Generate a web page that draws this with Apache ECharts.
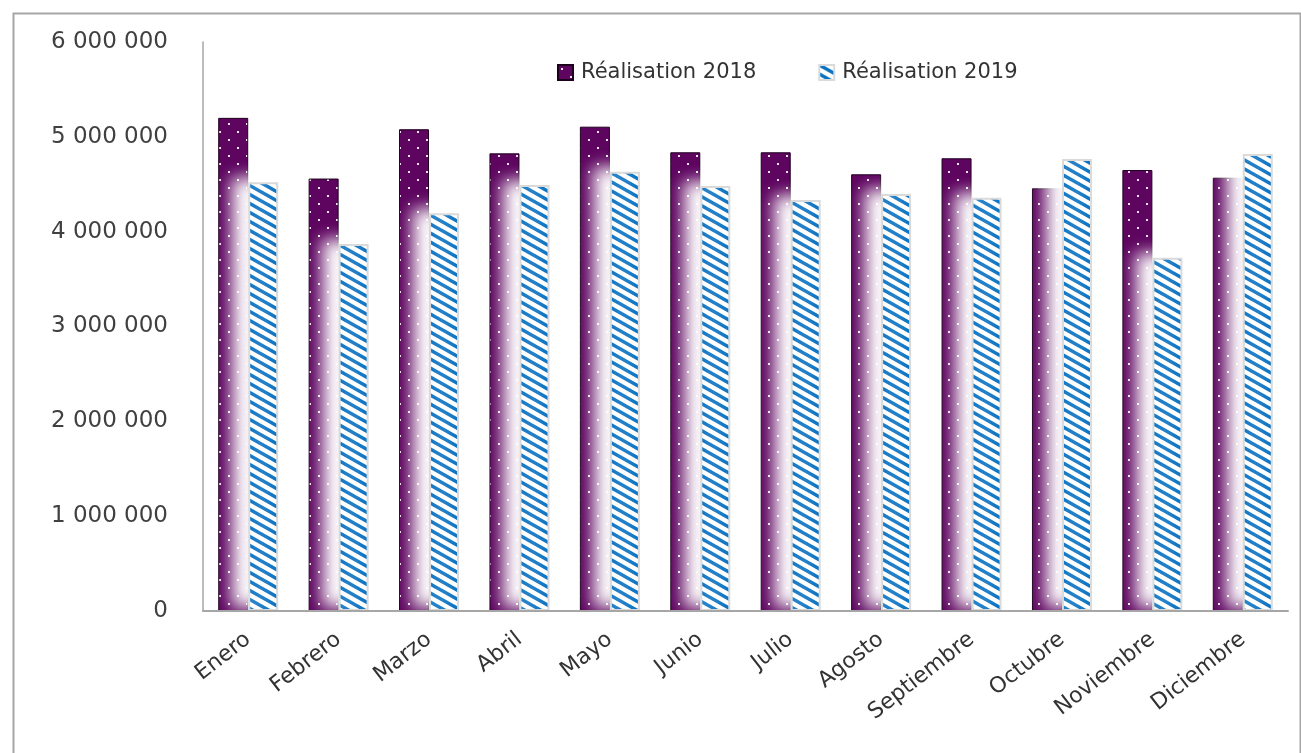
<!DOCTYPE html>
<html>
<head>
<meta charset="utf-8">
<script src="https://cdn.jsdelivr.net/npm/echarts@6/dist/echarts.min.js"></script>
<style>
  html, body { margin: 0; padding: 0; background: #ffffff; }
  #chart { width: 1301px; height: 753px; }
</style>
</head>
<body>
<div id="chart"></div>
<script>
// Monthly figures
const months = ['Enero', 'Febrero', 'Marzo', 'Abril', 'Mayo', 'Junio', 'Julio',
                'Agosto', 'Septiembre', 'Octubre', 'Noviembre', 'Diciembre'];
const real2018 = [5200000, 4560000, 5080000, 4826000, 5107000, 4837000, 4837000,
                  4605000, 4774000, 4457000, 4650000, 4569000];
const real2019 = [4520000, 3870000, 4194000, 4492000, 4633000, 4482000, 4334000,
                  4397000, 4358000, 4766000, 3726000, 4819000];
const seriesNames = ['Réalisation 2018', 'Réalisation 2019'];
const yTicks = [0, 1000000, 2000000, 3000000, 4000000, 5000000, 6000000];

// Fill pattern: purple with small white dots
function dotPattern() {
  const c = document.createElement('canvas');
  c.width = 18; c.height = 16;
  const g = c.getContext('2d');
  g.fillStyle = '#5e0560';
  g.fillRect(0, 0, 18, 16);
  g.fillStyle = 'rgba(255,255,255,0.9)';
  g.fillRect(3, 3, 2, 2);
  g.fillRect(12, 11, 2, 2);
  return c;
}

// Fill pattern: white with blue diagonal stripes
function stripePattern() {
  const w = 16, h = 9;
  const c = document.createElement('canvas');
  c.width = w; c.height = h;
  const g = c.getContext('2d');
  g.fillStyle = '#ffffff';
  g.fillRect(0, 0, w, h);
  g.strokeStyle = '#0a72c2';
  g.lineWidth = 3.4;
  for (let k = -1; k <= 1; k++) {
    g.beginPath();
    g.moveTo(-w, -h + k * h);
    g.lineTo(2 * w, 2 * h + k * h);
    g.stroke();
  }
  return c;
}

function fmt(v) {
  return String(v).replace(/\B(?=(\d{3})+(?!\d))/g, ' ');
}

const chart = echarts.init(document.getElementById('chart'), null, { renderer: 'canvas' });
const FONT = 'DejaVu Sans';

chart.setOption({
  backgroundColor: '#ffffff',
  animation: false,
  graphic: [{
    type: 'rect',
    left: 11, top: 11,
    shape: { width: 1287, height: 760 },
    style: { fill: 'none', stroke: '#a6a6a6', lineWidth: 2 },
    silent: true
  }],
  legend: {
    left: 552, top: 57,
    itemWidth: 15, itemHeight: 15, itemGap: 62,
    icon: 'rect',
    textStyle: { fontFamily: FONT, fontSize: 21, color: '#333333', padding: [0, 0, 0, 3] },
    data: seriesNames
  },
  grid: { left: 203, right: 13, top: 42, bottom: 142, containLabel: false },
  xAxis: {
    type: 'category',
    data: months,
    z: 3,
    axisTick: { show: false },
    axisLine: { lineStyle: { color: '#a6a6a6', width: 2 } },
    axisLabel: {
      rotate: 38, margin: 26, interval: 0,
      fontFamily: FONT, fontSize: 22, color: '#333333'
    }
  },
  yAxis: {
    type: 'value',
    min: yTicks[0], max: yTicks[yTicks.length - 1], interval: 1000000,
    splitLine: { show: false },
    axisTick: { show: false },
    axisLine: { show: true, lineStyle: { color: '#a6a6a6', width: 1.5 } },
    axisLabel: {
      margin: 35, fontFamily: FONT, fontSize: 23, color: '#404040',
      formatter: fmt
    }
  },
  series: [
    {
      name: seriesNames[0],
      type: 'bar',
      data: real2018,
      barWidth: 30,
      barGap: '0%',
      itemStyle: {
        color: { image: dotPattern(), repeat: 'repeat' },
        borderColor: '#1e001e',
        borderWidth: 1
      }
    },
    {
      name: seriesNames[1],
      type: 'bar',
      data: real2019,
      barWidth: 30,
      itemStyle: {
        color: { image: stripePattern(), repeat: 'repeat' },
        borderColor: '#dadada',
        borderWidth: 2,
        shadowColor: 'rgba(255,255,255,1)',
        shadowBlur: 16,
        shadowOffsetX: -16,
        shadowOffsetY: -4
      }
    }
  ]
});
</script>
</body>
</html>
